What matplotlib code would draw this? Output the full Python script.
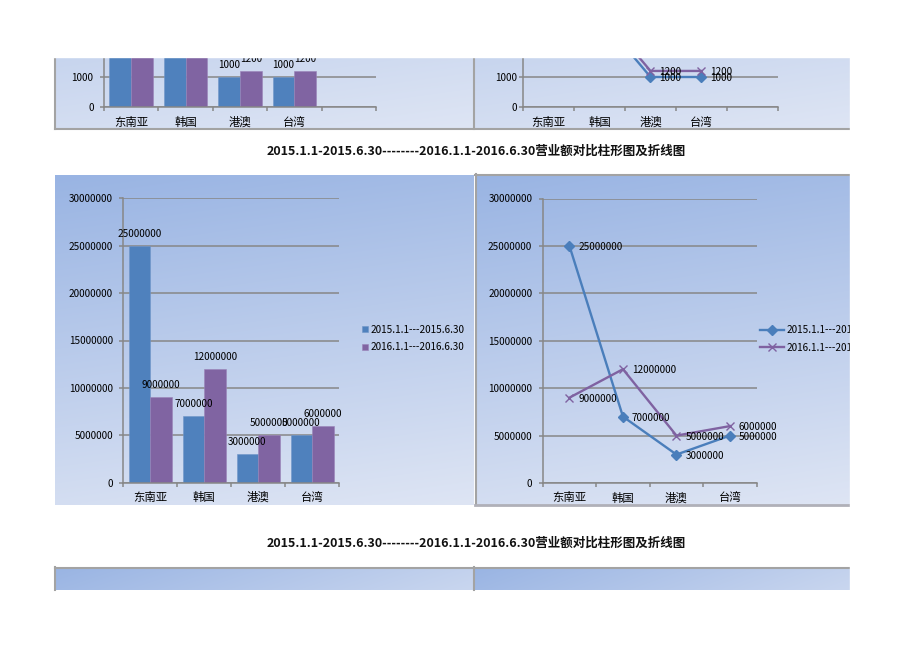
import numpy as np
import matplotlib
matplotlib.use('Agg')
import matplotlib.pyplot as plt
from matplotlib.lines import Line2D
from matplotlib.ticker import FixedLocator

plt.rcParams['font.family'] = ['Noto Sans CJK SC', 'DejaVu Sans']

W, H = 920, 651

# Dados dos gráficos
regioes = ['东南亚', '韩国', '港澳', '台湾']
series_nomes = ['2015.1.1---2015.6.30', '2016.1.1---2016.6.30']
vendas_2015 = [25000000, 7000000, 3000000, 5000000]
vendas_2016 = [9000000, 12000000, 5000000, 6000000]

# Gráficos da página anterior (só aparece a parte de baixo)
regioes_topo = ['东南亚', '韩国', '港澳', '台湾', '']
topo_2015 = [4000, 3000, 1000, 1000]
topo_2016 = [3500, 3200, 1200, 1200]

titulo = '2015.1.1-2015.6.30--------2016.1.1-2016.6.30营业额对比柱形图及折线图'

AZUL = '#4f81bd'
ROXO = '#8064a2'
AZUL_LINHA = '#4a7ebb'
ROXO_LINHA = '#7f62a1'
GRADE = '#878787'
BORDA = '#a3a3a3'
C_TOPO = np.array([153, 180, 227]) / 255
C_BAIXO = np.array([222, 229, 244]) / 255
FS = 7.2

fig = plt.figure(figsize=(W / 100, H / 100), dpi=100)
fig.patch.set_facecolor('white')


def caixa(x0, y0, x1, y1):
    return [x0 / W, 1 - y1 / H, (x1 - x0) / W, (y1 - y0) / H]


def fundo(x0, y0, x1, y1, a=0.15, b=0.85):
    # Fundo em degradê do painel do gráfico
    ax = fig.add_axes(caixa(x0, y0, x1, y1), zorder=0)
    U, V = np.meshgrid(np.linspace(0, 1, 200), np.linspace(0, 1, 200))
    t = np.clip(a * U + b * V, 0, 1)
    img = C_TOPO + (C_BAIXO - C_TOPO) * t[..., None]
    ax.imshow(img, aspect='auto', interpolation='bilinear')
    ax.set_axis_off()
    return ax


def linha(x0, y0, x1, y1, cor=BORDA, lw=1.5):
    fig.add_artist(Line2D([x0 / W, x1 / W], [1 - y0 / H, 1 - y1 / H],
                          transform=fig.transFigure, color=cor, lw=lw, zorder=5))


def eixo(rect, rotulos, ymax, passo, pad_y=4.0):
    ax = fig.add_axes(rect, zorder=2)
    ax.patch.set_alpha(0)
    n = len(rotulos)
    ax.set_xlim(-0.5, n - 0.5)
    ax.set_ylim(0, ymax)
    ax.set_yticks(np.arange(0, ymax + 1, passo))
    ax.set_yticklabels([str(int(v)) for v in np.arange(0, ymax + 1, passo)])
    ax.yaxis.grid(True, color=GRADE, lw=1.1)
    ax.set_axisbelow(True)
    for s in ['top', 'right']:
        ax.spines[s].set_visible(False)
    for s in ['left', 'bottom']:
        ax.spines[s].set_color(GRADE)
        ax.spines[s].set_linewidth(1.1)
    ax.set_xticks(range(n))
    ax.set_xticklabels(rotulos, va='baseline')
    ax.xaxis.set_minor_locator(FixedLocator(np.arange(-0.5, n, 1)))
    ax.tick_params(axis='x', which='major', length=0, pad=13.3, labelsize=8.2)
    ax.tick_params(axis='x', which='minor', length=3, color=GRADE, width=1.1)
    ax.tick_params(axis='y', length=3, color=GRADE, width=1.1, pad=pad_y, labelsize=FS)
    return ax


def barras(ax, v1, v2):
    x = np.arange(len(v1))
    ax.bar(x - 0.2, v1, 0.4, color=AZUL, edgecolor='#6f95c8', lw=0.4)
    ax.bar(x + 0.2, v2, 0.4, color=ROXO, edgecolor='#9a83b8', lw=0.4)
    for xi, v in zip(x, v1):
        ax.annotate(str(v), (xi - 0.2, v), xytext=(0, 12), textcoords='offset pixels',
                    ha='center', va='center', fontsize=FS, annotation_clip=False)
    for xi, v in zip(x, v2):
        ax.annotate(str(v), (xi + 0.2, v), xytext=(0, 12), textcoords='offset pixels',
                    ha='center', va='center', fontsize=FS, annotation_clip=False)


def linhas(ax, v1, v2):
    x = np.arange(len(v1))
    ax.plot(x, v1, color=AZUL_LINHA, lw=1.7, marker='D', ms=5, clip_on=False,
            label=series_nomes[0])
    ax.plot(x, v2, color=ROXO_LINHA, lw=1.7, marker='x', ms=6, mew=1.0, clip_on=False,
            label=series_nomes[1])
    for xi, v in zip(x, v1):
        ax.annotate(str(v), (xi, v), xytext=(9, -1), textcoords='offset pixels',
                    ha='left', va='center', fontsize=FS, annotation_clip=False)
    for xi, v in zip(x, v2):
        ax.annotate(str(v), (xi, v), xytext=(9, -1), textcoords='offset pixels',
                    ha='left', va='center', fontsize=FS, annotation_clip=False)


# ---- Fragmentos de cima (fim dos gráficos anteriores) ----
fundo(55, -201, 474, 129)
fundo(474, -201, 850, 129)
linha(55, 129, 850, 129)
linha(55.5, 57, 55.5, 129)
linha(474.5, 57, 474.5, 129)

ax1 = eixo(caixa(104, -13.9, 376, 107.3), regioes_topo, 4000, 1000, pad_y=4.5)
barras(ax1, topo_2015, topo_2016)
ax2 = eixo(caixa(523, -13.9, 778, 107.3), regioes_topo, 4000, 1000, pad_y=1.5)
linhas(ax2, topo_2015, topo_2016)

# ---- Títulos ----
for yt in [151, 543]:
    fig.text(476 / W, 1 - yt / H, titulo, ha='center', va='center',
             fontsize=9.0, fontweight='bold', color='#111111')

# ---- Gráficos do meio ----
fundo(55, 175, 474, 505)
fundo(475, 174, 850, 505)
linha(475, 174.5, 850, 174.5)
linha(475.5, 174, 475.5, 505)
linha(475, 504.5, 850, 504.5, cor='#b0b0b8', lw=2)

ax3 = eixo(caixa(123.3, 198.3, 339.3, 482.7), regioes, 30000000, 5000000, pad_y=4.5)
barras(ax3, vendas_2015, vendas_2016)
leg = ax3.legend(series_nomes, loc='center left', bbox_to_anchor=(362 / W, 1 - 338.5 / H),
                 bbox_transform=fig.transFigure, frameon=False, fontsize=FS,
                 handlelength=0.6, handleheight=0.6, handletextpad=0.25,
                 borderpad=0, borderaxespad=0, labelspacing=0.75)

ax4 = eixo(caixa(542.7, 198.5, 756.7, 483), regioes, 30000000, 5000000, pad_y=4.5)
linhas(ax4, vendas_2015, vendas_2016)
ax4.legend(loc='center left', bbox_to_anchor=(760 / W, 1 - 339 / H),
           bbox_transform=fig.transFigure, frameon=False, fontsize=FS,
           handlelength=2.4, handletextpad=0.3, borderpad=0, borderaxespad=0,
           labelspacing=0.75)

# ---- Fragmentos de baixo (início dos próximos gráficos) ----
fundo(55, 567, 474, 590, a=0.6, b=0.1)
fundo(474, 567, 850, 590, a=0.6, b=0.1)
linha(55, 567.5, 850, 567.5)
linha(474.5, 567, 474.5, 590)
linha(55.5, 567, 55.5, 590)

# Máscaras brancas: a página é cortada em cima e à direita
fig.add_artist(plt.Rectangle((0, 1 - 57 / H), 1, 57 / H, transform=fig.transFigure,
                             color='white', zorder=20))
fig.add_artist(plt.Rectangle((850 / W, 0), 70 / W, 1 - 57 / H, transform=fig.transFigure,
                             color='white', zorder=20))

fig.savefig('out.png', dpi=100)
